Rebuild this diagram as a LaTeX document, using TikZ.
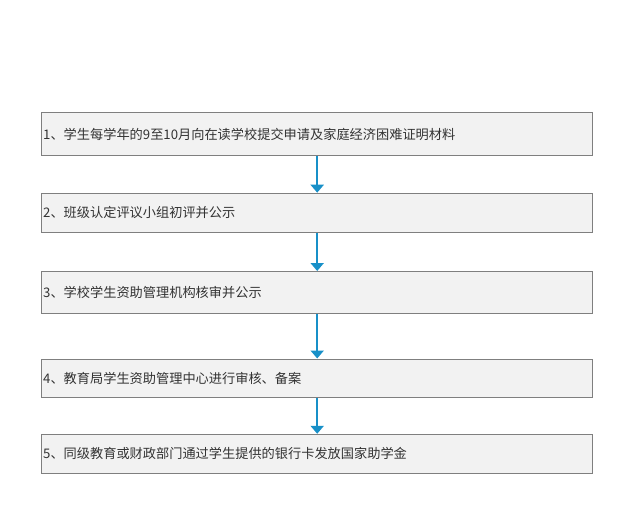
\documentclass[tikz,border=0pt]{standalone}
\usepackage{fontspec}
\setmainfont{Noto Sans CJK SC}
\usetikzlibrary{arrows.meta}
\definecolor{boxline}{HTML}{7F7F7F}
\definecolor{boxfill}{HTML}{F2F2F2}
\definecolor{flowblue}{HTML}{1890C8}
\definecolor{txt}{HTML}{333333}

\begin{document}
\begin{tikzpicture}[x = 1pt, y = -1pt,
  stepbox/.style = {draw = boxline, fill = boxfill, line width = 1pt,
    minimum width = 551pt, text width = 548pt, align = left,
    inner xsep = 1.5pt, font = \fontsize{13.2}{15}\selectfont, text = txt},
  flow/.style = {draw = flowblue, line width = 2pt,
    -{Triangle[width = 13pt, length = 8pt]}}]
\useasboundingbox (0, 0) rectangle (638, 507);
%\draw [help lines] (0, 0) grid (638, 507);
\node [stepbox, minimum height = 43pt] (s1) at (317.2, 134.2)
  {1、学生每学年的9至10月向在读学校提交申请及家庭经济困难证明材料};
\node [stepbox, minimum height = 39pt] (s2) at (317.2, 212.7)
  {2、班级认定评议小组初评并公示};
\node [stepbox, minimum height = 42pt] (s3) at (317.2, 292.5)
  {3、学校学生资助管理机构核审并公示};
\node [stepbox, minimum height = 38pt] (s4) at (317.2, 378)
  {4、教育局学生资助管理中心进行审核、备案};
\node [stepbox, minimum height = 39pt] (s5) at (317.2, 453.8)
  {5、同级教育或财政部门通过学生提供的银行卡发放国家助学金};
\draw [flow] (s1) -- (s2);
\draw [flow] (s2) -- (s3);
\draw [flow] (s3) -- (s4);
\draw [flow] (s4) -- (s5);
\end{tikzpicture}
\end{document}
